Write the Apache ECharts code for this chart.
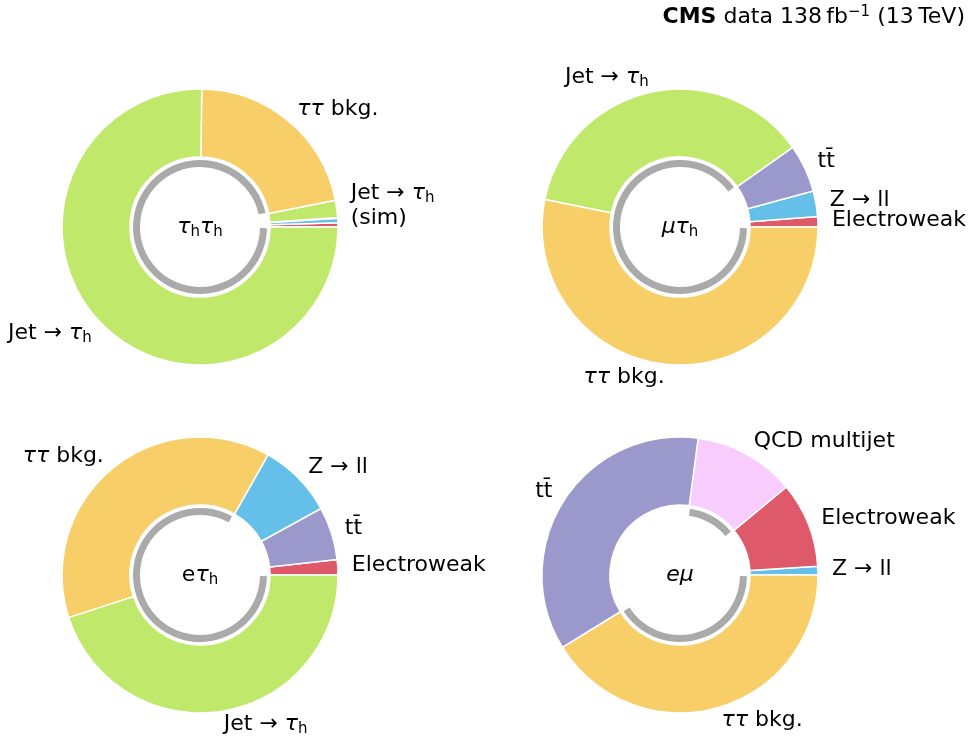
<!DOCTYPE html>
<html>
<head>
<meta charset="utf-8">
<script src="https://cdn.jsdelivr.net/npm/echarts@6/dist/echarts.min.js"></script>
<style>
  html, body { margin: 0; background: #fff; }
  #chart { width: 969px; height: 740px; }
</style>
</head>
<body>
<div id="chart"></div>
<script>
// Shares in percent, in drawing order (counter-clockwise from 3 o'clock)
const tthNames = ['Electroweak', 'Z → ll', 'tt̄', 'Jet → τh (sim)', 'ττ bkg.', 'Jet → τh'];
const tthShares = [0.5, 0.5, 0.1, 2.0, 21.7, 75.2];
const tthLabelled = [false, false, false, true, true, true];

const mthNames = ['Electroweak', 'Z → ll', 'tt̄', 'Jet → τh', 'ττ bkg.'];
const mthShares = [1.2, 3.0, 5.6, 37.0, 53.2];
const mthLabelled = [true, true, true, true, true];

const ethNames = ['Electroweak', 'tt̄', 'Z → ll', 'ττ bkg.', 'Jet → τh'];
const ethShares = [1.8, 6.2, 8.8, 38.2, 45.0];
const ethLabelled = [true, true, true, true, true];

const emNames = ['Z → ll', 'Electroweak', 'QCD multijet', 'tt̄', 'ττ bkg.'];
const emShares = [1.0, 10.0, 11.9, 35.9, 41.2];
const emLabelled = [true, true, true, true, true];

// processes estimated from data (grey inner arc)
const dataDriven = ['ττ bkg.', 'Jet → τh', 'QCD multijet'];

const channelTitles = ['{t|τ}{s|h}{t|τ}{s|h}', '{t|μτ}{s|h}', '{n|e}{t|τ}{s|h}', '{t|eμ}'];

const processColors = {
  'Electroweak': '#de5a6a',
  'Z → ll': '#64c0e8',
  'tt̄': '#9b98cc',
  'Jet → τh (sim)': '#c0e86a',
  'Jet → τh': '#c0e86a',
  'ττ bkg.': '#f8ce68',
  'QCD multijet': '#f8ccfc'
};

const labelText = {
  'Electroweak': '{n|Electroweak}',
  'Z → ll': '{n|Z → ll}',
  'tt̄': '{n|tt̄}',
  'Jet → τh': '{n|Jet → }{t|τ}{s|h}',
  'Jet → τh (sim)': '{n|Jet → }{t|τ}{s|h}\n{n|(sim)}',
  'ττ bkg.': '{t|ττ}{n| bkg.}',
  'QCD multijet': '{n|QCD multijet}'
};

const FONT = '"DejaVu Sans", sans-serif';
const RICH = {
  n: { fontFamily: FONT, fontSize: 22, lineHeight: 25, color: '#000', verticalAlign: 'middle' },
  t: { fontFamily: FONT, fontSize: 22, lineHeight: 25, color: '#000', fontStyle: 'italic', verticalAlign: 'middle' },
  s: { fontFamily: FONT, fontSize: 15, lineHeight: 14, color: '#000', verticalAlign: 'bottom' },
  b: { fontFamily: FONT, fontSize: 22, lineHeight: 25, color: '#000', fontWeight: 'bold', verticalAlign: 'middle' },
  sup: { fontFamily: FONT, fontSize: 15, lineHeight: 13, color: '#000', verticalAlign: 'top' }
};

const centers = [[200, 227], [680, 227], [200, 575], [680, 575]];

function outerSeries(center, names, shares, labelled) {
  return {
    type: 'pie',
    center,
    radius: [70, 138],
    startAngle: 0,
    clockwise: false,
    silent: true,
    avoidLabelOverlap: false,
    labelLayout: { hideOverlap: false },
    itemStyle: { borderColor: '#fff', borderWidth: 1.5 },
    label: {
      position: 'outside',
      distanceToLabelLine: 0,
      fontFamily: FONT,
      fontSize: 22,
      lineHeight: 25,
      color: '#000',
      padding: [0, 0, 2, 0],
      formatter: (p) => labelText[p.name],
      rich: RICH
    },
    labelLine: { show: false, length: 14, length2: 0 },
    data: names.map((n, i) => ({
      name: n,
      value: shares[i],
      itemStyle: { color: processColors[n] },
      label: { show: labelled[i] }
    }))
  };
}

function ringSeries(center, names, shares) {
  const segs = [];
  names.forEach((n, i) => {
    const dd = dataDriven.includes(n);
    const last = segs[segs.length - 1];
    if (last && last.dd === dd) last.value += shares[i];
    else segs.push({ value: shares[i], dd });
  });
  return {
    type: 'pie',
    center,
    radius: [60, 67],
    startAngle: 0,
    clockwise: false,
    silent: true,
    padAngle: 2,
    label: { show: false },
    labelLine: { show: false },
    data: segs.map((s) => ({
      value: s.value,
      itemStyle: { color: s.dd ? '#aaaaaa' : 'rgba(0,0,0,0)' }
    }))
  };
}

const panels = [
  [tthNames, tthShares, tthLabelled],
  [mthNames, mthShares, mthLabelled],
  [ethNames, ethShares, ethLabelled],
  [emNames, emShares, emLabelled]
];

const series = [];
panels.forEach(([names, shares, labelled], i) => {
  series.push(outerSeries(centers[i], names, shares, labelled));
  series.push(ringSeries(centers[i], names, shares));
});

const titles = channelTitles.map((t, i) => ({
  text: t,
  left: centers[i][0],
  top: centers[i][1],
  padding: 0,
  textAlign: 'center',
  textVerticalAlign: 'middle',
  textStyle: { fontFamily: FONT, fontSize: 22, fontWeight: 'normal', color: '#000', rich: RICH }
}));

titles.push({
  text: '{b|CMS}{n| data 138\u2009fb}{sup|−1}{n| (13\u2009TeV)}',
  right: 4,
  top: 5,
  padding: 0,
  textStyle: { fontFamily: FONT, fontSize: 22, fontWeight: 'normal', color: '#000', rich: RICH }
});

const chart = echarts.init(document.getElementById('chart'), null, { renderer: 'canvas' });
chart.setOption({
  animation: false,
  backgroundColor: '#fff',
  title: titles,
  series
});
</script>
</body>
</html>
